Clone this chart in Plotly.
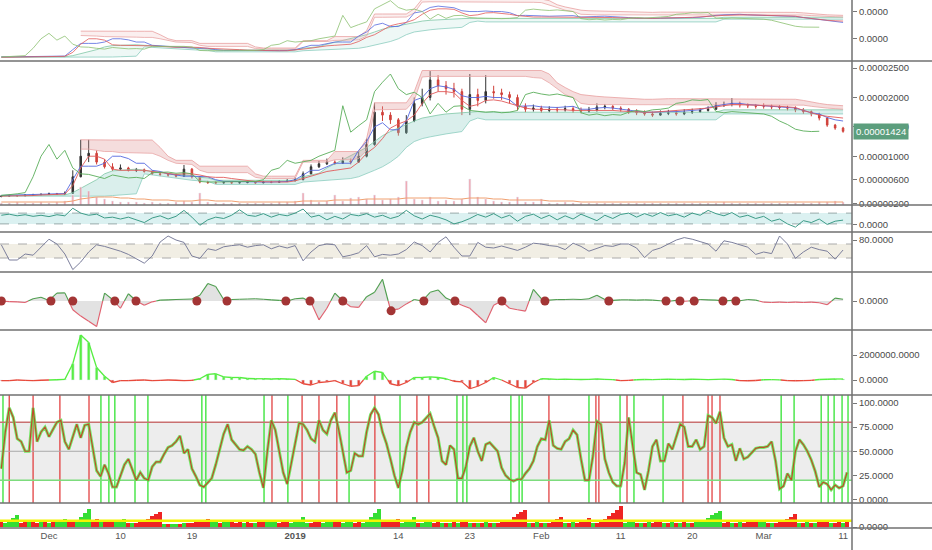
import plotly.graph_objects as go
import pandas as pd

# ---------------- data (prices in units of 1e-8) ----------------
close = [320,330,325,340,345,350,360,355,370,650, 1000,1050,900,820,780,800,760,770,740,700,
         690,680,660,780,650,560,550,545,550,545, 550,555,545,560,555,570,580,600,700,820,
         870,900,880,920,900,1000,1200,1750,1700,1620, 1400,1600,1900,2000,2300,2200,2150,2100,1800,2050,
         1950,2100,2080,2050,2000,1850,1800,1820,1780,1800, 1790,1810,1780,1770,1790,1840,1850,1820,1800,1760,
         1740,1720,1700,1730,1740,1720,1750,1760,1780,1800, 1870,1880,1900,1870,1860,1850,1850,1840,1830,1820,
         1790,1760,1720,1650,1530,1480,1424]
high = [335,345,340,355,360,365,380,375,400,760, 1280,1280,1100,950,880,860,820,800,790,760,
        720,710,700,850,800,660,580,570,570,565, 570,575,570,580,580,590,610,640,740,860,
        920,960,930,980,960,1080,1300,1910,1850,1750, 1650,1700,2000,2150,2450,2380,2280,2250,2150,2400,
        2150,2380,2200,2150,2100,2050,1900,1880,1860,1850, 1840,1860,1850,1830,1840,1900,1890,1870,1850,1820,
        1800,1780,1760,1780,1790,1780,1800,1810,1820,1850, 1920,1930,1990,1930,1900,1890,1900,1880,1870,1860,
        1850,1820,1780,1740,1660,1550,1500]
low = [300,315,310,320,330,335,345,340,350,360, 640,900,860,790,750,760,740,730,720,680,
       660,650,640,650,620,540,530,530,535,530, 535,540,530,540,540,550,560,575,590,690,
       800,850,850,870,860,890,980,1180,1600,1550, 1350,1380,1580,1850,1950,2100,2050,2000,1700,1700,
       1850,1900,1980,1960,1900,1780,1750,1760,1740,1750, 1740,1760,1740,1730,1740,1760,1800,1780,1760,1720,
       1700,1690,1670,1690,1700,1690,1700,1720,1740,1760, 1790,1840,1850,1830,1820,1810,1810,1800,1790,1780,
       1750,1720,1680,1610,1500,1450,1400]
first_open = 315

tenkan = [330,335,335,340,345,350,355,360,365,600, 830,830,830,880,1000,1000,960,880,880,760,
          740,700,680,660,660,655,650,600,570,570, 565,560,560,560,560,565,570,600,680,760,
          760,820,880,880,880,1100,1250,1500,1570,1450, 1450,1600,1950,2000,2150,2200,2180,2140,2030,2000,
          2000,2020,2000,2000,1960,1850,1860,1860,1840,1830, 1830,1840,1850,1800,1800,1820,1830,1820,1800,1780,
          1760,1750,1750,1760,1760,1760,1770,1780,1790,1830, 1860,1880,1900,1900,1880,1870,1860,1850,1840,1830,
          1820,1780,1740,1720,1660,1620,1600]
kijun = [320,320,325,330,330,340,345,350,355,500, 800,1000,1000,950,780,760,760,760,760,740,
         720,700,690,700,700,680,650,640,640,620, 600,580,570,565,560,560,560,580,620,655,
         700,740,760,780,800,900,1050,1150,1300,1480, 1550,1600,1700,1900,2050,2100,2100,2080,1950,1850,
         1880,1950,1960,1940,1900,1850,1820,1800,1800,1800, 1790,1790,1780,1780,1780,1790,1790,1780,1770,1760,
         1760,1750,1750,1760,1760,1770,1780,1790,1800,1820, 1840,1860,1880,1880,1880,1870,1860,1860,1850,1840,
         1830,1780,1740,1700,1680,1660,1650]
chikou = [330,340,360,380,650,1000,1200,950,1100,800, 700,690,650,620,680,660,630,640,620,720,
          720,730,710,720,700,570,560,560,570,565, 560,560,570,600,760,800,930,880,900,930,
          1000,1050,1100,1860,1410,1520,1620,2100,2260,2400, 2150,2050,2090,2000,1720,1900,1750,1850,1860,1780,
          1760,1750,1760,1740,1750,1780,2050,2090,2060,2040, 2060,2030,2000,1740,1700,1720,1690,1710,1700,1750,
          1780,1760,1790,1800,1820,1900,1920,1960,1950,1965, 1760,1740,1760,1750,1740,1730,1720,1680,1600,1540,
          1460,1430,1420,1425,None,None,None]
pink_hi = [None]*10 + [1280,1276,1276,1276,1276,1276,1276,1276,1276,1276,
           1150,1000,930,930,930,830,830,830,830,830, 830,830,700,660,660,660,660,660,930,930,
           930,930,1080,1080,1080,1080,1300,1910,1910,1910, 1910,1910,2100,2460,2460,2460,2460,2460,2460,2460,
           2460,2460,2460,2460,2460,2460,2460,2460,2460,2400, 2250,2170,2100,2050,2030,2020,2010,2000,1990,1980,
           1980,1970,1970,1980,1980,1980,1980,1980,1980,1980, 1980,1980,1980,1980,1980,1980,1980,1980,1980,1980,
           1970,1950,1920,1900,1880,1870,1860]
pink_lo = [None]*10 + [1120,1120,1100,1080,1080,1060,1060,1060,1050,1050,
           1000,930,880,870,860,760,720,720,720,720, 720,720,640,620,620,620,620,620,900,900,
           900,900,940,940,940,960,1100,1790,1790,1790, 1790,1800,1950,2350,2360,2360,2360,2360,2360,2360,
           2360,2360,2360,2360,2360,2360,2360,2340,2330,2250, 2150,2050,2000,1900,1880,1880,1880,1880,1880,1880,
           1880,1880,1880,1880,1880,1880,1880,1880,1880,1880, 1880,1880,1880,1880,1880,1880,1880,1880,1880,1880,
           1880,1870,1850,1830,1820,1810,1800]
teal_hi = [340,340,340,340,340,340,340,340,340,380, 450,520,600,700,750,760,770,780,760,740,
           720,700,690,680,670,640,630,590,590,590, 590,590,590,590,590,590,590,590,650,680,
           710,800,870,940,1000,1080,1150,1250,1350,1420, 1480,1550,1600,1650,1680,1700,1720,1730,1740,1750,
           1760,1750,1750,1750,1750,1750,1750,1750,1750,1750, 1750,1750,1750,1750,1750,1750,1750,1750,1750,1750,
           1750,1750,1750,1750,1750,1750,1750,1750,1750,1750, 1750,1790,1790,1790,1790,1790,1790,1790,1790,1790,
           1790,1790,1790,1790,1790,1790,1790]
teal_lo = [320,320,320,320,320,320,320,320,320,310, 310,310,310,320,330,340,350,360,700,680,
           660,640,620,600,590,580,575,520,520,520, 520,520,520,520,520,520,520,520,560,570,
           580,590,600,610,620,650,700,760,820,900, 1000,1150,1250,1300,1330,1360,1380,1400,1420,1600,
           1650,1620,1620,1620,1620,1620,1620,1620,1620,1620, 1620,1620,1620,1620,1620,1620,1620,1620,1620,1620,
           1620,1620,1620,1620,1620,1620,1620,1620,1620,1620, 1620,1720,1720,1720,1720,1720,1720,1720,1720,1720,
           1720,1720,1720,1720,1720,1720,1720]
volume = [2,2,3,2,2,3,2,3,4,10, 18,14,8,6,4,3,3,3,2,3, 2,2,3,4,3,12,3,2,2,2,
          2,2,2,2,2,3,3,4,12,5, 3,4,10,4,7,8,6,10,5,6, 8,24,6,5,8,4,5,4,6,26,
          8,6,4,3,3,8,3,3,6,2, 2,3,2,2,2,2,2,2,2,2, 2,2,2,2,2,2,2,2,2,2,
          2,3,2,2,2,2,2,2,2,2, 2,2,2,3,3,4,3]
volume_ma = [3,3,3,3,3,3,3,3,3,4, 6,7,8,8,8,7,7,6,6,5, 5,5,4,4,4,5,5,4,4,4,
             3,3,3,3,3,3,3,3,4,4, 4,4,5,5,5,5,6,6,6,6, 6,7,7,7,7,7,7,6,6,7,
             7,7,6,6,5,5,5,5,5,4, 4,4,4,3,3,3,3,3,3,3, 3,3,3,3,3,3,3,3,3,3,
             3,3,3,3,3,3,3,3,3,3, 3,3,3,3,3,3,3]

osc3 = [36,40,34,38,32,36,31,38,34,62, 44,36,40,26,29,22,29,20,9,26, 34,22,32,54,29,-1,19,29,24,36,
        56,36,32,42,29,39,34,44,59,29, 36,19,32,22,39,34,42,29,36,24, 32,54,34,22,36,29,19,4,12,24,
        39,29,42,26,36,14,32,40,24,36, 19,34,22,40,29,16,36,24,39,44, 29,42,32,46,34,40,29,44,36,54,
        42,34,46,29,36,24,32,14,22,4, -8,16,9,22,2,14,18]
rsi = [68,30,30,45,42,62,82,70,45,6, 25,50,68,64,58,52,44,32,22,40, 75,90,80,74,40,34,58,54,63,66,
       68,62,66,68,58,65,60,66,28,50, 66,70,68,38,42,48,66,38,44,42, 45,56,75,66,50,74,88,62,40,40,
       74,62,60,65,60,54,62,72,70,66, 64,56,72,64,52,60,66,64,70,70, 60,36,54,60,70,80,86,82,76,70,
       52,78,74,68,62,44,50,46,90,70, 34,50,62,56,52,32,55]
mom = [0.0,-0.02,-0.03,-0.05,0.08,0.13,0.02,0.27,0.28,-0.3, -0.52,-0.7,-0.88,0.27,0.05,-0.25,0.25,0.0,-0.15,-0.03,
       0.03,0.04,0.05,0.06,0.07,0.2,0.6,0.5,0.05,0.05, 0.06,0.07,0.08,0.06,0.04,0.02,0.0,0.08,0.1,-0.05,
       -0.65,-0.25,0.27,0.0,-0.2,-0.22,0.15,0.3,0.75,-0.3, -0.28,-0.1,0.05,0.0,0.3,0.38,0.1,-0.02,-0.15,-0.25,
       -0.5,-0.75,-0.15,0.0,-0.25,-0.3,-0.35,0.4,0.08,0.03, 0.05,0.05,0.06,0.05,0.08,0.2,0.05,0.02,0.04,0.04,
       0.03,0.04,0.03,0.01,-0.01,0.02,-0.01,0.01,0.05,0.04, 0.03,0.0,0.02,0.01,0.05,0.03,-0.04,-0.05,-0.04,-0.05,
       -0.04,-0.05,-0.04,-0.06,-0.13,0.1,0.06]
dot_dates = ["2018-11-25 00:00","2018-12-01 06:00","2018-12-04 00:00","2018-12-09 07:00","2018-12-11 23:00",
             "2018-12-19 15:00","2018-12-23 10:00","2018-12-30 20:00","2019-01-02 21:00","2019-01-07 00:00",
             "2019-01-13 02:00","2019-01-17 05:00","2019-01-21 03:00","2019-01-27 01:00","2019-02-01 11:00",
             "2019-02-09 12:00","2019-02-16 17:00","2019-02-18 11:00","2019-02-20 06:00","2019-02-23 21:00",
             "2019-02-25 12:00"]
dot_vals = [0,0,0,0,0,0,0,0,0,0,-0.34,0,0,0,0,0,0,0,0,0,0]
hist_m = [-0.05,-0.05,0.0,-0.03,-0.05,-0.02,0.0,0.02,0.05,1.3, 3.6,3.0,1.0,0.3,-0.2,-0.05,-0.05,-0.02,0.0,-0.05,
          -0.03,0.0,-0.02,-0.05,-0.03,0.1,0.45,0.5,0.25,0.2, 0.2,0.12,0.1,0.1,0.08,0.1,0.08,0.05,-0.3,-0.4,
          -0.2,-0.15,-0.05,-0.3,-0.5,-0.45,0.3,0.7,0.6,-0.3, -0.45,-0.2,0.2,0.2,0.25,0.2,0.1,-0.1,-0.15,-0.7,
          -0.5,-0.2,0.2,0.0,-0.3,-0.6,-0.65,-0.2,0.1,0.08, 0.05,0.06,0.05,0.04,0.05,0.08,0.05,0.03,-0.05,-0.03,
          0.02,0.04,0.03,0.05,0.06,0.05,0.04,0.06,0.05,0.03, 0.05,0.07,0.04,-0.05,-0.06,-0.04,0.02,0.03,0.01,-0.05,
          -0.06,-0.05,-0.03,0.04,0.06,0.08,0.08]
stoch_d = [32,70,95,85,63,60,50,50,95,60, 70,75,65,72,80,82,60,52,65,78, 64,77,78,52,30,24,36,27,13,13,
           25,36,42,32,20,28,22,20,34,39, 39,47,54,56,60,66,48,52,32,24, 15,13,17,22,36,52,68,78,62,57,
           52,51,55,52,47,28,12,50,82,72, 50,28,16,36,57,79,78,72,63,60, 82,72,68,82,90,72,50,28,30,48,
           45,45,70,88,95,88,70,58,42,25, 12,30,54,70,80,78,80,85,89,76, 64,40,36,56,52,22,22,34,55,64,
           50,40,57,59,55,50,33,25,21,19, 21,21,27,32,40,55,63,62,82,56, 53,52,60,63,72,67,42,20,20,45,
           81,78,42,28,18,14,14,38,85,55, 28,26,10,30,55,62,40,40,58,52, 64,78,75,55,55,62,52,55,87,85,
           79,91,64,55,57,40,53,42,44,49, 53,54,54,55,60,40,11,14,27,20, 50,62,57,50,41,29,13,18,16,10,
           15,12,14,28]
green_sig = ["2018-11-25 05:00","2018-12-07 13:00","2018-12-08 13:00","2018-12-09 07:00","2018-12-11 20:00",
             "2018-12-13 11:00","2018-12-20 06:00","2018-12-20 18:00","2018-12-28 02:00","2018-12-31 02:00",
             "2019-01-07 19:00","2019-01-14 05:00","2019-01-21 09:00","2019-01-22 03:00","2019-01-22 15:00",
             "2019-01-28 04:00","2019-01-29 05:00","2019-01-29 14:00","2019-02-07 00:00","2019-02-10 22:00",
             "2019-02-12 16:00","2019-02-16 08:00","2019-03-03 05:00","2019-03-04 20:00","2019-03-08 06:00",
             "2019-03-09 03:00","2019-03-09 21:00","2019-03-10 21:00","2019-03-11 15:00"]
red_sig = ["2018-11-26 00:00","2018-11-29 00:00","2018-12-02 09:00","2018-12-06 01:00","2018-12-29 02:00",
           "2019-01-01 21:00","2019-01-04 00:00","2019-01-06 06:00","2019-01-11 01:00","2019-01-16 08:00",
           "2019-01-17 20:00","2019-02-01 23:00","2019-02-07 21:00","2019-02-08 06:00","2019-02-11 19:00",
           "2019-02-18 20:00","2019-02-22 00:00","2019-02-22 12:00","2019-02-23 12:00"]
streak = [-5,4,5,9,12,-4,-5,5,-5,-4, 5,-5,4,-5,5,6,8,-5,-5,6, 10,14,18,-5,-8,5,-5,-5,-7,5,
          6,8,-4,4,-4,-5,-5,-8,-11,-13, -15,3,-3,3,3,-3,4,-4,-4,-5, -6,-7,-8,5,5,-4,5,5,-5,-4,
          -5,4,-5,-4,4,-5,-6,5,5,7, -4,-5,-5,4,5,7,10,4,-4,-5, -6,4,5,5,-5,-6,4,5,5,-4,
          -5,4,6,10,14,18,-5,-5,-6,-7, -8,4,5,7,10,-4,4,5,6,-4, -5,4,-4,4,-5,4,-5,-5,4,-4,
          4,-4,5,-4,4,-4,-5,-5,-7,-10, -13,-15,-17,4,-4,5,-4,4,-4,-5, -8,-10,4,-4,5,-4,-5,-6,-9,4,
          -4,-5,-8,-11,-14,-17,-21,4,5,5, -4,4,-4,5,-4,-5,-5,4,-4,5, -4,4,-5,4,-4,5,5,7,9,12,
          14,16,-4,-5,4,-4,5,-4,-5,-5, -6,5,5,-4,4,-4,-5,-6,-8,-10, -13,4,-4,5,-4,4,-5,-5,-6,4,
          -4,-5,4,-5]
last_price = 1424
tick_dates = ["2018-12-01","2018-12-10","2018-12-19","2019-01-01","2019-01-14","2019-01-23",
              "2019-02-01","2019-02-11","2019-02-20","2019-03-01","2019-03-11"]
tick_text = ["Dec","10","19","<b>2019</b>","14","23","Feb","11","20","Mar","11"]

# ---------------- helpers ----------------
S = 1e-8
def sc(a):
    return [None if v is None else v * S for v in a]

days = pd.date_range("2018-11-25", periods=len(close), freq="D")
halfdays = pd.date_range("2018-11-25", periods=max(len(stoch_d), len(streak)), freq="12h")
opens = [first_open] + close[:-1]

def split_sign(xs, vs):
    px, py, nx, ny = [], [], [], []
    for i in range(len(vs) - 1):
        x0, x1, y0, y1 = xs[i], xs[i + 1], vs[i], vs[i + 1]
        if y0 >= 0 and y1 >= 0:
            px += [x0, x1, None]; py += [y0, y1, None]
        elif y0 < 0 and y1 < 0:
            nx += [x0, x1, None]; ny += [y0, y1, None]
        else:
            t = y0 / (y0 - y1)
            xc = x0 + (x1 - x0) * t
            if y0 >= 0:
                px += [x0, xc, None]; py += [y0, 0, None]
                nx += [xc, x1, None]; ny += [0, y1, None]
            else:
                nx += [x0, xc, None]; ny += [y0, 0, None]
                px += [xc, x1, None]; py += [0, y1, None]
    return px, py, nx, ny

PLOT_H = 528
bounds = [0, 61, 205, 232, 272, 330, 395, 503, 528]
def dom(i):
    return [(PLOT_H - bounds[i + 1]) / PLOT_H, (PLOT_H - bounds[i]) / PLOT_H]

BLUE, RED, GREEN = "#5468e0", "#e25a5a", "#5aae5a"

fig = go.Figure()

def ichimoku(yax, alpha):
    fig.add_trace(go.Scatter(x=days, y=sc(teal_lo), yaxis=yax, mode="lines",
                             line=dict(color="#8ccdbf", width=0.8), hoverinfo="skip"))
    fig.add_trace(go.Scatter(x=days, y=sc(teal_hi), yaxis=yax, mode="lines", fill="tonexty",
                             fillcolor="rgba(140,205,195,%s)" % alpha, line=dict(color="#7fc7a6", width=0.8),
                             hoverinfo="skip"))
    fig.add_trace(go.Scatter(x=days, y=sc(pink_lo), yaxis=yax, mode="lines",
                             line=dict(color="#e8a6a6", width=0.8), hoverinfo="skip"))
    fig.add_trace(go.Scatter(x=days, y=sc(pink_hi), yaxis=yax, mode="lines", fill="tonexty",
                             fillcolor="rgba(225,150,150,%s)" % alpha, line=dict(color="#e8a0a0", width=0.8),
                             hoverinfo="skip"))

# P1 overview
ichimoku("y", 0.15)
for arr, col in [(tenkan, BLUE), (kijun, RED), (chikou, "#8cc070")]:
    fig.add_trace(go.Scatter(x=days, y=sc(arr), yaxis="y", mode="lines",
                             line=dict(color=col, width=0.8), hoverinfo="skip"))

# P2 main
ichimoku("y2", 0.32)
fig.add_trace(go.Bar(x=days, y=volume, yaxis="y9", marker=dict(color="rgba(235,135,150,0.75)"),
                     width=0.25 * 86400000, hoverinfo="skip"))
fig.add_trace(go.Scatter(x=days, y=volume_ma, yaxis="y9", mode="lines",
                         line=dict(color="#f0a070", width=1), hoverinfo="skip"))
for arr, col in [(tenkan, BLUE), (kijun, RED), (chikou, GREEN)]:
    fig.add_trace(go.Scatter(x=days, y=sc(arr), yaxis="y2", mode="lines",
                             line=dict(color=col, width=0.9), hoverinfo="skip"))
fig.add_trace(go.Candlestick(x=days, open=sc(opens), high=sc(high), low=sc(low), close=sc(close),
                             yaxis="y2", whiskerwidth=0,
                             increasing=dict(line=dict(color="#333333", width=1), fillcolor="#333333"),
                             decreasing=dict(line=dict(color="#d0403a", width=1), fillcolor="#d0403a"),
                             hoverinfo="skip"))

# P3 oscillator
fig.add_trace(go.Scatter(x=days[:len(osc3)], y=osc3, yaxis="y3", mode="lines",
                         line=dict(color="#3e9c88", width=1), hoverinfo="skip"))
# P4 RSI
fig.add_trace(go.Scatter(x=days[:len(rsi)], y=rsi, yaxis="y4", mode="lines",
                         line=dict(color="#7c7f9c", width=1), hoverinfo="skip"))
# P5 momentum
fig.add_trace(go.Scatter(x=days[:len(mom)], y=mom, yaxis="y5", mode="lines", fill="tozeroy",
                         fillcolor="rgba(190,190,190,0.45)", line=dict(width=0), hoverinfo="skip"))
px, py, nx, ny = split_sign(list(days[:len(mom)]), mom)
fig.add_trace(go.Scatter(x=px, y=py, yaxis="y5", mode="lines", line=dict(color="#4f9e4f", width=1.1),
                         hoverinfo="skip"))
fig.add_trace(go.Scatter(x=nx, y=ny, yaxis="y5", mode="lines", line=dict(color="#e0606e", width=1.1),
                         hoverinfo="skip"))
fig.add_trace(go.Scatter(x=pd.to_datetime(dot_dates), y=dot_vals, yaxis="y5", mode="markers",
                         marker=dict(color="#a33535", size=9), hoverinfo="skip"))
# P6 histogram
hist_abs = [v * 1e6 for v in hist_m]
hist_cols = ["#58ee44" if v >= 0 else "#e5463a" for v in hist_m]
fig.add_trace(go.Bar(x=days[:len(hist_abs)], y=hist_abs, yaxis="y6", marker=dict(color=hist_cols),
                     width=0.35 * 86400000, hoverinfo="skip"))
px, py, nx, ny = split_sign(list(days[:len(hist_abs)]), hist_abs)
fig.add_trace(go.Scatter(x=px, y=py, yaxis="y6", mode="lines", line=dict(color="#55ee40", width=1.3),
                         hoverinfo="skip"))
fig.add_trace(go.Scatter(x=nx, y=ny, yaxis="y6", mode="lines", line=dict(color="#e84a3c", width=1.3),
                         hoverinfo="skip"))
# P7 stochastic
fig.add_trace(go.Scatter(x=halfdays[:len(stoch_d)], y=stoch_d, yaxis="y7", mode="lines",
                         line=dict(color="rgba(90,235,80,0.85)", width=3), hoverinfo="skip"))
fig.add_trace(go.Scatter(x=halfdays[:len(stoch_d)], y=stoch_d, yaxis="y7", mode="lines",
                         line=dict(color="#bf4a2c", width=1.2), hoverinfo="skip"))
# P8 streak bars
fig.add_trace(go.Bar(x=halfdays[:len(streak)], y=[abs(v) for v in streak], yaxis="y8",
                     marker=dict(color=["#35dd35" if v > 0 else "#ee2424" for v in streak], line=dict(width=0)),
                     width=0.5 * 86400000, hoverinfo="skip"))

# ---------------- layout ----------------
FONT = dict(family="Liberation Sans, Arial, sans-serif", size=9.5, color="#4a4a4a")
def yax(i, rng, tickvals, fmt, **kw):
    d = dict(domain=dom(i), range=rng, side="right", anchor="x", showgrid=False, zeroline=False,
             showline=False, tickvals=tickvals, tickformat=fmt, ticks="outside", ticklen=4,
             tickcolor="#777", tickfont=FONT, fixedrange=True)
    d.update(kw)
    return d

shapes = []
shapes.append(dict(type="rect", xref="paper", yref="y3", x0=0, x1=1, y0=4, y1=44,
                   fillcolor="rgba(175,225,225,0.45)", line=dict(width=0), layer="below"))
for lv in (4, 44):
    shapes.append(dict(type="line", xref="paper", yref="y3", x0=0, x1=1, y0=lv, y1=lv,
                       line=dict(color="#9aa", width=1, dash="dash"), layer="below"))
shapes.append(dict(type="rect", xref="paper", yref="y4", x0=0, x1=1, y0=35, y1=70,
                   fillcolor="rgba(232,226,210,0.6)", line=dict(width=0), layer="below"))
for lv in (35, 70):
    shapes.append(dict(type="line", xref="paper", yref="y4", x0=0, x1=1, y0=lv, y1=lv,
                       line=dict(color="#aaa", width=1, dash="dash"), layer="below"))
shapes.append(dict(type="rect", xref="paper", yref="y7", x0=0, x1=1, y0=20, y1=80,
                   fillcolor="rgba(215,215,215,0.45)", line=dict(width=0), layer="below"))
for t in green_sig:
    shapes.append(dict(type="line", xref="x", yref="y7 domain", x0=t, x1=t, y0=0, y1=1,
                       line=dict(color="rgba(70,230,70,0.9)", width=1.6), layer="below"))
for t in red_sig:
    shapes.append(dict(type="line", xref="x", yref="y7 domain", x0=t, x1=t, y0=0, y1=1,
                       line=dict(color="rgba(225,60,60,0.9)", width=1.4), layer="below"))
shapes.append(dict(type="line", xref="paper", yref="y7", x0=0, x1=1, y0=80, y1=80,
                   line=dict(color="#c97070", width=1.6), layer="below"))
shapes.append(dict(type="line", xref="paper", yref="y7", x0=0, x1=1, y0=50, y1=50,
                   line=dict(color="#aaaaaa", width=1), layer="below"))
shapes.append(dict(type="line", xref="paper", yref="y7", x0=0, x1=1, y0=20, y1=20,
                   line=dict(color="#7ddc7d", width=1.6), layer="below"))
shapes.append(dict(type="line", xref="paper", yref="y8", x0=0, x1=1, y0=6.3, y1=6.3,
                   line=dict(color="#f4f400", width=2.5)))
xr = 932 / 852
for b in bounds[1:]:
    yy = (PLOT_H - b) / PLOT_H
    shapes.append(dict(type="line", xref="paper", yref="paper", x0=0, x1=xr, y0=yy, y1=yy,
                       line=dict(color="#707070", width=1.6)))
shapes.append(dict(type="line", xref="paper", yref="paper", x0=1, x1=1, y0=-22 / PLOT_H, y1=1,
                   line=dict(color="#707070", width=1.5)))

fig.update_layout(
    width=932, height=550, margin=dict(l=0, r=80, t=0, b=22),
    paper_bgcolor="white", plot_bgcolor="white", showlegend=False, hovermode=False,
    barmode="overlay", bargap=0, boxgap=0.72,
    xaxis=dict(domain=[0, 1], anchor="y8", type="date", range=["2018-11-24 20:00", "2019-03-12 03:00"],
               tickvals=tick_dates, ticktext=tick_text, showgrid=False, zeroline=False, showline=False,
               ticks="", tickfont=dict(family="Liberation Sans, Arial, sans-serif", size=9.5, color="#555"),
               rangeslider=dict(visible=False), fixedrange=True),
    yaxis=yax(0, [183 * S, 2425 * S], [2000 * S, 1000 * S], ".4f"),
    yaxis2=yax(1, [169 * S, 2622 * S], [2500 * S, 2000 * S, 1500 * S, 1000 * S, 600 * S, 200 * S], ".8f"),
    yaxis3=yax(2, [-26, 74], [0], ".4f"),
    yaxis4=yax(3, [0, 100], [80], ".4f"),
    yaxis5=yax(4, [-1, 1], [0], ".4f"),
    yaxis6=yax(5, [-1.2e6, 4.0e6], [0, 2e6], ".4f"),
    yaxis7=yax(6, [-3.6, 108.3], [0, 25, 50, 75, 100], ".4f"),
    yaxis8=yax(7, [-1, 24], [0], ".4f"),
    yaxis9=dict(overlaying="y2", range=[0, 144], visible=False, fixedrange=True, anchor="x", side="right"),
    shapes=shapes,
    annotations=[dict(x=1, xref="paper", y=last_price * S, yref="y2", xanchor="left", yanchor="middle",
                      text="0.00001424", showarrow=False, bgcolor="#5c9e7d", borderpad=2, xshift=1,
                      font=dict(family="Liberation Sans, Arial, sans-serif", size=9.5, color="white"))],
)

fig.write_html("out.html", config={"displayModeBar": False, "staticPlot": True},
               post_script=["document.body.style.margin='0px';document.body.style.padding='0px';"])
